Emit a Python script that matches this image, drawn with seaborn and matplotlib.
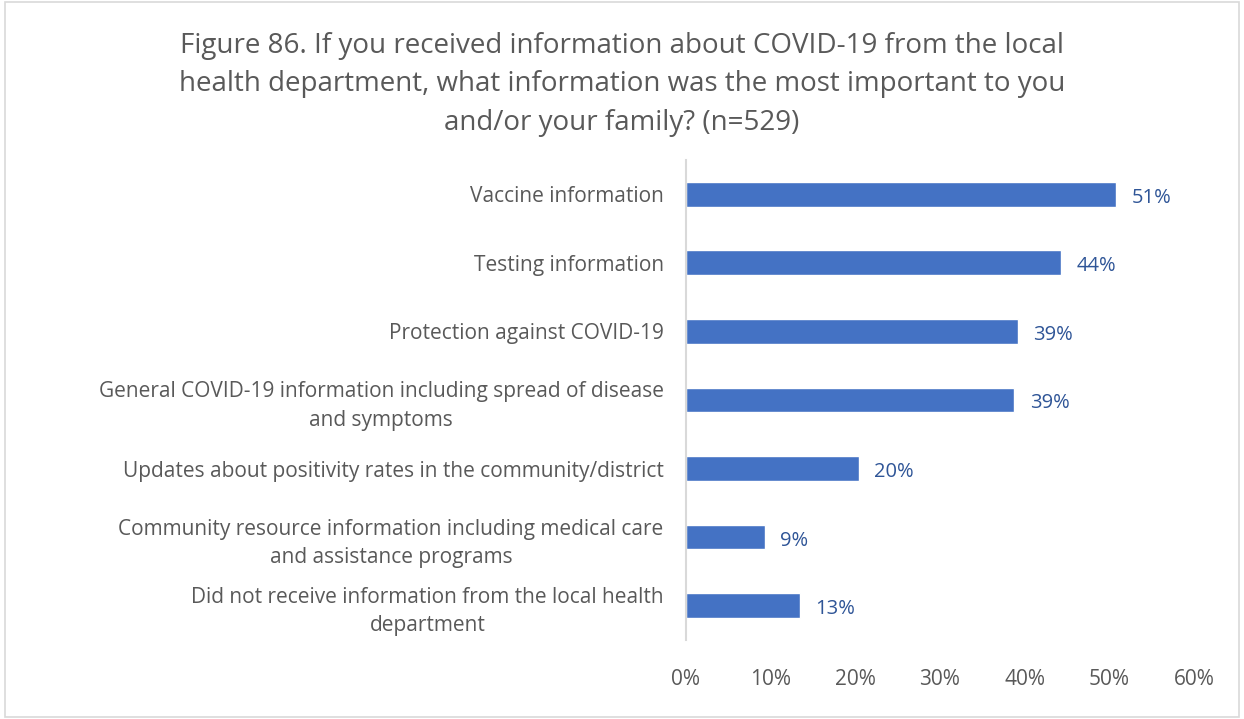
import numpy as np
import pandas as pd
import matplotlib
matplotlib.use("Agg")
import matplotlib.pyplot as plt
import seaborn as sns
from matplotlib.ticker import FuncFormatter
from matplotlib.patches import Rectangle

# data
categories = [
    "Vaccine information",
    "Testing information",
    "Protection against COVID-19",
    "General COVID-19 information including spread of disease\nand symptoms",
    "Updates about positivity rates in the community/district",
    "Community resource information including medical care\nand assistance programs",
    "Did not receive information from the local health\ndepartment",
]
values = [50.8, 44.3, 39.2, 38.8, 20.4, 9.3, 13.5]
value_labels = ["51%", "44%", "39%", "39%", "20%", "9%", "13%"]
x_ticks = [0, 10, 20, 30, 40, 50, 60]

title = ("Figure 86. If you received information about COVID-19 from the local\n"
         "health department, what information was the most important to you\n"
         "and/or your family? (n=529)")

bar_color = "#4472C4"
text_grey = "#595959"
label_blue = "#2F5597"

sns.set_theme(style="white")
plt.rcParams['font.family'] = ['Open Sans', 'DejaVu Sans']

df = pd.DataFrame({"category": categories, "value": values})

fig = plt.figure(figsize=(12.44, 7.19), dpi=100)
ax = fig.add_axes([0.5514, 0.1099, 0.9598 - 0.5514, 0.7775 - 0.1099])

sns.barplot(data=df, y="category", x="value", orient="h", color=bar_color,
            saturation=1, width=0.36, ax=ax)

texts = ax.bar_label(ax.containers[0], labels=value_labels, padding=11,
                     color=label_blue, fontsize=14.5)
for t in texts:
    t.xyann = (11, -2.5)   # nudge down a bit to sit on bar centre

ax.set_xlim(0, 60)
ax.set_ylim(6.5, -0.5)
ax.set_xticks(x_ticks)
ax.xaxis.set_major_formatter(FuncFormatter(lambda v, p: f"{v:.0f}%"))
ax.set_xlabel("")
ax.set_ylabel("")

ax.tick_params(axis="y", length=0, pad=16, labelsize=15, labelcolor=text_grey)
ax.tick_params(axis="x", length=0, pad=21, labelsize=15, labelcolor=text_grey)
for lbl in ax.get_yticklabels():
    lbl.set_multialignment("center")
    lbl.set_linespacing(1.45)

for side in ["top", "right", "bottom"]:
    ax.spines[side].set_visible(False)
ax.spines["left"].set_color("#D9D9D9")
ax.spines["left"].set_linewidth(1.5)

fig.text(0.5, 0.956, title, ha="center", va="top", fontsize=20,
         color=text_grey, linespacing=1.5)

# light border round the chart area
fig.patches.append(Rectangle((0.004, 0.003), 0.992, 0.994, transform=fig.transFigure,
                             fill=False, edgecolor="#D9D9D9", linewidth=1.2))

fig.savefig("out.png", dpi=100, facecolor="white")
